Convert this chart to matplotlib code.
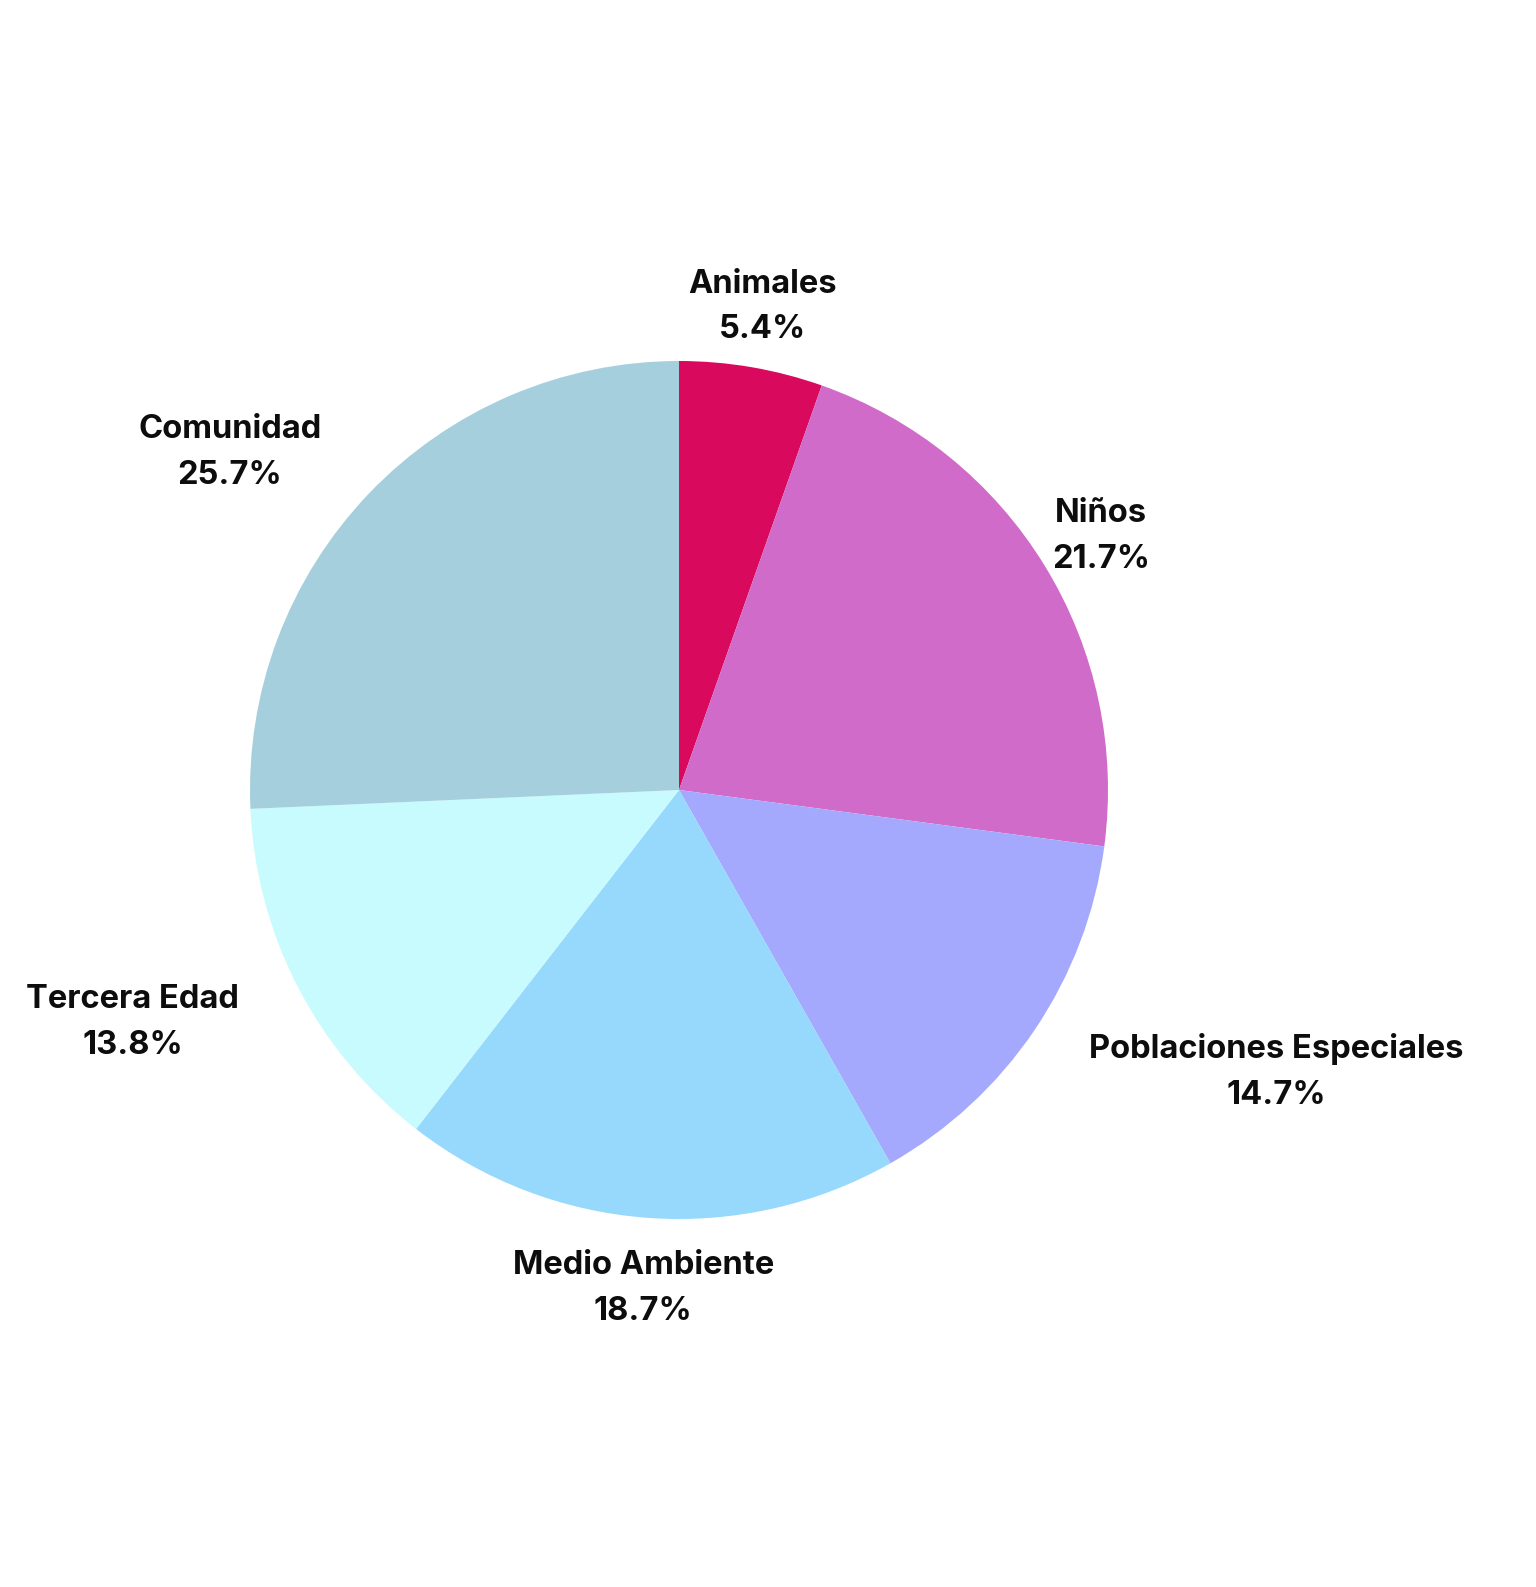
import numpy as np
import matplotlib
matplotlib.use("Agg")
import matplotlib.pyplot as plt
from matplotlib.transforms import offset_copy

categories = ["Animales", "Niños", "Poblaciones Especiales", "Medio Ambiente",
              "Tercera Edad", "Comunidad"]
values = [5.4, 21.7, 14.7, 18.7, 13.8, 25.7]
colors = ["#D90A5E", "#D06BC9", "#A4A9FD", "#97D9FC", "#C7FBFD", "#A6CFDD"]

W, H = 1536, 1587
cx, cy, r = 679, 790, 429

fig = plt.figure(figsize=(W / 100, H / 100), dpi=100)
ax = fig.add_axes([(cx - r) / W, (H - cy - r) / H, 2 * r / W, 2 * r / H])

wedges, _ = ax.pie(values, colors=colors, startangle=90, counterclock=False,
                   radius=1, wedgeprops=dict(linewidth=0))
ax.set_xlim(-1, 1)
ax.set_ylim(-1, 1)

# label centred outside the slice; if the box would run into the pie,
# push it sideways so its inner edge sits on the anchor point
R = 1.154
renderer = fig.canvas.get_renderer()
tr = offset_copy(ax.transData, fig=fig, x=0, y=-5, units="dots")
for w, cat, v in zip(wedges, categories, values):
    ang = np.deg2rad((w.theta1 + w.theta2) / 2)
    x, y = np.cos(ang), np.sin(ang)
    t = ax.text(R * x, R * y, f"{cat}\n{v:.1f}%", ha="center", va="center",
                multialignment="center", fontsize=23.5, fontweight="bold",
                family=["Inter", "DejaVu Sans"], linespacing=1.62,
                color="#0d0d0d", transform=tr)
    bb = t.get_window_extent(renderer)
    px0, py0 = ax.transData.transform((0, 0))
    nx = np.clip(px0, bb.x0, bb.x1) - px0
    ny = np.clip(py0, bb.y0, bb.y1) - py0
    if np.hypot(nx, ny) < r and abs(x) > 0.3:
        t.set_ha("left" if x > 0 else "right")

fig.savefig("out.png", dpi=100)
